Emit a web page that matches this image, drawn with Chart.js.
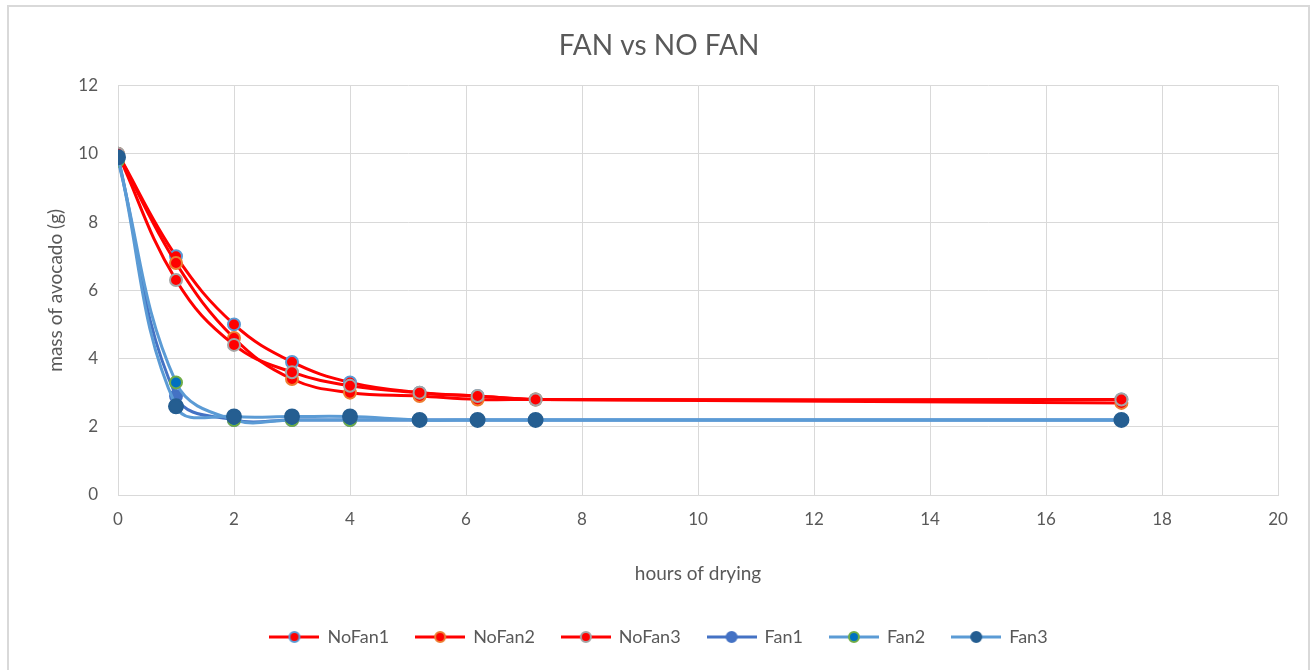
<!DOCTYPE html>
<html>
<head>
<meta charset="utf-8">
<script src="https://cdn.jsdelivr.net/npm/chart.js@4"></script>
<style>
  html, body { margin: 0; padding: 0; background: #fff; }
  #wrap { width: 1312px; height: 670px; position: relative; }
</style>
</head>
<body>
<div id="wrap"><canvas id="chart" width="1312" height="670"></canvas></div>
<script>
// hours of drying (x) and mass of avocado in g (y)
const hours  = [0, 1, 2, 3, 4, 5.2, 6.2, 7.2, 17.3];
const noFan1 = [10, 7.0, 5.0, 3.9, 3.3, 3.0, 2.9, 2.8, 2.8];
const noFan2 = [10, 6.8, 4.6, 3.4, 3.0, 2.9, 2.8, 2.8, 2.7];
const noFan3 = [10, 6.3, 4.4, 3.6, 3.2, 3.0, 2.9, 2.8, 2.8];
const fan1   = [9.9, 2.9, 2.2, 2.2, 2.2, 2.2, 2.2, 2.2, 2.2];
const fan2   = [9.8, 3.3, 2.2, 2.2, 2.2, 2.2, 2.2, 2.2, 2.2];
const fan3   = [9.9, 2.6, 2.3, 2.3, 2.3, 2.2, 2.2, 2.2, 2.2];

const FONT = "Lato, 'Open Sans', sans-serif";
const txt = "#595959", grid = "#D9D9D9";

// line + marker swatch for the legend, like Excel draws it
function swatch(line, fill, border, r) {
  const c = document.createElement("canvas");
  c.width = 50; c.height = 18;
  const g = c.getContext("2d");
  g.strokeStyle = line; g.lineWidth = 3;
  g.beginPath(); g.moveTo(0, 9); g.lineTo(50, 9); g.stroke();
  g.beginPath(); g.arc(25, 9, r, 0, Math.PI * 2);
  g.fillStyle = fill; g.fill();
  g.lineWidth = 2; g.strokeStyle = border; g.stroke();
  return c;
}

const series = [
  { label: "NoFan1", vals: noFan1, line: "#FF0000", fill: "#FF0000", border: "#5B9BD5", r: 6 },
  { label: "NoFan2", vals: noFan2, line: "#FF0000", fill: "#FF0000", border: "#ED7D31", r: 6 },
  { label: "NoFan3", vals: noFan3, line: "#FF0000", fill: "#FF0000", border: "#A5A5A5", r: 6 },
  { label: "Fan1",   vals: fan1,   line: "#4472C4", fill: "#4472C4", border: "#4472C4", r: 6 },
  { label: "Fan2",   vals: fan2,   line: "#5B9BD5", fill: "#0070C0", border: "#70AD47", r: 6 },
  { label: "Fan3",   vals: fan3,   line: "#5B9BD5", fill: "#255E91", border: "#255E91", r: 7 },
];

const datasets = series.map((s, i) => ({
  label: s.label,
  data: hours.map((h, j) => ({ x: h, y: s.vals[j] })),
  borderColor: s.line, borderWidth: 3,
  pointBackgroundColor: s.fill, pointBorderColor: s.border,
  pointBorderWidth: 2, pointRadius: s.r,
  tension: 0.4, fill: false,
  order: series.length - i,          // later series on top, as in Excel
  pointStyle: "circle",
  legendIcon: swatch(s.line, s.fill, s.border, 5),
}));

const frame = {
  id: "frame",
  beforeDraw(chart) {
    const c = chart.ctx;
    c.save();
    c.strokeStyle = "#D9D9D9"; c.lineWidth = 2;
    c.strokeRect(8, 6, 1301, 680);
    c.restore();
  },
};

new Chart(document.getElementById("chart"), {
  type: "line",
  data: { datasets },
  plugins: [frame],
  options: {
    responsive: false,
    animation: false,
    layout: { padding: { left: 40, right: 34, top: 10, bottom: 14 } },
    plugins: {
      title: {
        display: true, text: "FAN vs NO FAN", color: txt,
        font: { family: FONT, size: 28, weight: "normal" },
        padding: { top: 19, bottom: 23 },
      },
      legend: {
        position: "bottom",
        labels: {
          color: txt, font: { family: FONT, size: 18 },
          usePointStyle: true, pointStyleWidth: 48, boxHeight: 16, padding: 27,
          sort: (a, b) => a.datasetIndex - b.datasetIndex,
          generateLabels(chart) {
            return chart.data.datasets.map((d, i) => ({
              text: d.label, datasetIndex: i, pointStyle: d.legendIcon,
              fontColor: txt, lineWidth: 0, strokeStyle: "transparent", fillStyle: "transparent",
            }));
          },
        },
      },
      tooltip: { enabled: false },
    },
    scales: {
      x: {
        type: "linear", min: 0, max: 20,
        ticks: { stepSize: 2, color: txt, font: { family: FONT, size: 17 }, padding: 14 },
        grid: { color: grid, drawTicks: false },
        border: { color: grid },
        title: { display: true, text: "hours of drying", color: txt,
                 font: { family: FONT, size: 19 }, padding: { top: 22, bottom: 16 } },
        afterFit: (s) => { s.height = 106; },
      },
      y: {
        min: 0, max: 12,
        ticks: { stepSize: 2, color: txt, font: { family: FONT, size: 17 }, padding: 20 },
        grid: { color: grid, drawTicks: false },
        border: { color: grid },
        title: { display: true, text: "mass of avocado (g)", color: txt,
                 font: { family: FONT, size: 19 }, padding: { top: 4, bottom: 4 } },
        afterFit: (s) => { s.width = 78; },
      },
    },
  },
});
</script>
</body>
</html>
